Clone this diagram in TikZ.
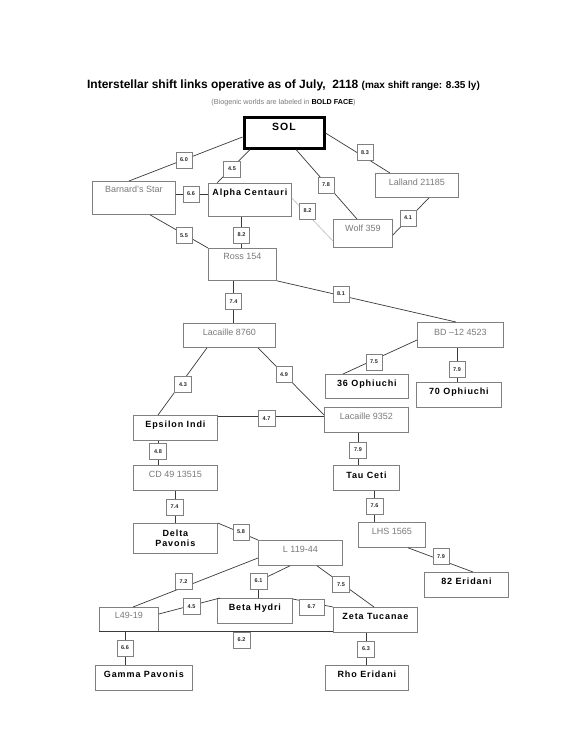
\documentclass[tikz,border=0pt]{standalone}
\usepackage{fontspec}
\setmainfont{Liberation Sans}
\newfontfamily\spcfont[LetterSpace=10]{Liberation Sans}
\usetikzlibrary{calc}
\definecolor{boxc}{HTML}{808080}
\definecolor{linec}{HTML}{3A3A3A}
\definecolor{gtext}{HTML}{7A7A7A}
\definecolor{lightl}{HTML}{BBBBBB}
\begin{document}
\begin{tikzpicture}[x=1pt,y=-1pt,
  gbox/.style={draw=boxc, line width=0.8pt, inner sep=0pt, anchor=north west,
    text height=12pt, text depth=13pt, minimum height=25pt, text=gtext,
    font=\fontsize{9}{11}\selectfont},
  bbox/.style={gbox, text=black, font=\spcfont\bfseries\fontsize{9}{10.7}\selectfont},
  lbl/.style={draw=boxc, line width=0.7pt, fill=white, inner sep=0pt,
    minimum width=16pt, minimum height=16pt,
    font=\bfseries\fontsize{5.5}{6}\selectfont, text=black!85},
  link/.style={draw=linec, line width=0.7pt},
  faint/.style={draw=lightl, line width=0.6pt}]
\fill[white] (0,0) rectangle (566,732);
\useasboundingbox (0,0) rectangle (566,732);

% title
\node[anchor=base, font=\bfseries\fontsize{12}{14}\selectfont] (title) at (283.5,88)
  {Interstellar shift links operative as of July,~~2118 {\fontsize{10}{12}\selectfont(max shift range: 8.35 ly)}};
\node[anchor=base, font=\fontsize{7.2}{8}\selectfont, text=gtext] (subtitle) at (283.5,104)
  {(Biogenic worlds are labeled in \textcolor{black}{\textbf{BOLD FACE}})};

% stars
\node[bbox, draw=black, line width=3pt, minimum width=80pt, minimum height=31pt,
  text height=13.5pt, text depth=17.5pt, font=\spcfont\bfseries\fontsize{10.5}{12}\selectfont]
  (sol) at (242.5,115.5) {SOL};
\node[gbox, minimum width=83pt, minimum height=33pt, text height=11pt, text depth=22pt] (barnard) at (92,181) {Barnard's Star};
\node[bbox, minimum width=83pt, minimum height=33pt, text depth=21pt] (alpha) at (208,183) {Alpha Centauri};
\node[gbox, minimum width=83pt, minimum height=24pt, text depth=12pt] (lalland) at (375,173) {Lalland 21185};
\node[gbox, minimum width=59pt, minimum height=28pt, text depth=16pt] (wolf) at (333,219) {Wolf 359};
\node[gbox, minimum width=68pt, minimum height=32pt, text height=11pt, text depth=21pt] (ross) at (208,248) {Ross 154};
\node[gbox, minimum width=92pt, minimum height=24pt, text depth=12pt] (lac8760) at (183,323) {Lacaille 8760};
\node[gbox, minimum width=86pt, text height=13pt, text depth=12pt] (bd) at (417,322) {BD --12 4523};
\node[bbox, minimum width=83pt, minimum height=24pt, text depth=12pt] (oph36) at (325,374) {36 Ophiuchi};
\node[bbox, minimum width=85pt] (oph70) at (416,382) {70 Ophiuchi};
\node[bbox, minimum width=84pt] (epsilon) at (133,415) {Epsilon Indi};
\node[gbox, minimum width=84pt] (lac9352) at (324,407) {Lacaille 9352};
\node[bbox, minimum width=66pt, text height=13pt, text depth=12pt] (tauceti) at (333,465) {Tau Ceti};
\node[gbox, minimum width=84pt] (cd) at (133,465) {CD 49 13515};
\node[bbox, minimum width=84pt, minimum height=30pt, text height={}, text depth={}, align=center] (delta) at (133,523) {Delta\\Pavonis};
\node[gbox, minimum width=84pt] (l119) at (258,540) {L 119-44};
\node[gbox, minimum width=67pt] (lhs) at (358,522) {LHS 1565};
\node[bbox, minimum width=84pt] (eri82) at (424,572) {82 Eridani};
\node[gbox, minimum width=59pt, minimum height=24pt, text height=11pt, text depth=13pt] (l49) at (99,607) {L49-19};
\node[bbox, minimum width=75pt] (beta) at (217,598) {Beta Hydri};
\node[bbox, minimum width=84pt] (zeta) at (333,607) {Zeta Tucanae};
\node[bbox, minimum width=83pt] (rho) at (325,665) {Rho Eridani};
\node[bbox, minimum width=97pt] (gamma) at (95,665) {Gamma Pavonis};

% label box position used as a bend point
\coordinate (c61) at (258.5,581);

% links
\draw[link] ($(sol.north west)+(0,21.5)$) -- ($(barnard.north west)+(37,0)$);
\draw[link] ($(sol.south west)+(7.5,0)$) -- ($(alpha.north west)+(9,0)$);
\draw[link] ($(sol.south west)+(53.5,0)$) -- ($(wolf.north west)+(24,0)$);
\draw[link] ($(sol.north east)+(0,17.5)$) -- ($(lalland.north west)+(15,0)$);
\draw[link] ($(lalland.south west)+(54,0)$) -- ($(wolf.north east)+(0,16)$);
\draw[faint] ($(alpha.north east)+(0,15)$) -- ($(wolf.north west)+(0,22)$);
\draw[link] ($(barnard.north east)+(0,13)$) -- ($(alpha.north west)+(0,11)$);
\draw[link] ($(alpha.south west)+(33,0)$) -- ($(ross.north west)+(33,0)$);
\draw[link] ($(barnard.south west)+(58,0)$) -- (ross.north west);
\draw[link] ($(ross.south west)+(25,0)$) -- ($(lac8760.north west)+(50,0)$);
\draw[link] (ross.south east) -- ($(bd.north west)+(39,0)$);
\draw[link] ($(bd.north west)+(0,18)$) -- ($(oph36.north west)+(18,0)$);
\draw[link] ($(bd.south west)+(40,0)$) -- ($(oph70.north west)+(41,0)$);
\draw[link] ($(lac8760.south west)+(24,0)$) -- ($(epsilon.north west)+(25,0)$);
\draw[link] ($(lac8760.south west)+(75,0)$) -- ($(lac9352.north west)+(0,8)$);
\draw[link] ($(epsilon.north east)+(0,1)$) -- ($(lac9352.north west)+(0,9)$);
\draw[link] ($(lac9352.south west)+(34,0)$) -- ($(tauceti.north west)+(25,0)$);
\draw[link] ($(epsilon.south west)+(25,0)$) -- ($(cd.north west)+(25,0)$);
\draw[link] ($(cd.south west)+(42,0)$) -- ($(delta.north west)+(42,0)$);
\draw[link] (delta.north east) -- (l119.north west);
\draw[link] ($(tauceti.south west)+(41,0)$) -- ($(lhs.north west)+(16,0)$);
\draw[link] ($(lhs.south west)+(50,0)$) -- ($(eri82.north west)+(49,0)$);
\draw[link] ($(l119.north west)+(0,18)$) -- ($(l49.north west)+(34,0)$);
\draw[link] ($(l119.south west)+(32,0)$) -- (c61) -- ($(beta.north west)+(41.5,0)$);
\draw[link] ($(l119.south west)+(59,0)$) -- ($(zeta.north west)+(41,0)$);
\draw[link] ($(l49.north east)+(0,7)$) -- ($(beta.north west)+(3,0)$);
\draw[link] ($(beta.north east)+(0,1)$) -- (zeta.north west);
\draw[link] (l49.south west) -- (l49.south west -| zeta.south west);
\draw[link] ($(l49.south west)+(26,0)$) -- ($(gamma.north west)+(30,0)$);
\draw[link] ($(zeta.south west)+(33,0)$) -- ($(rho.north west)+(41,0)$);

% distance labels
\node[lbl] (lb60) at (184,160) {6.0};
\node[lbl, minimum width=17pt] (lb45a) at (232,169) {4.5};
\node[lbl] (lb78) at (326,185) {7.8};
\node[lbl] (lb83) at (365,152.5) {8.3};
\node[lbl] (lb41) at (408,218) {4.1};
\node[lbl] (lb82a) at (307.5,211) {8.2};
\node[lbl] (lb66a) at (191,194) {6.6};
\node[lbl] (lb82b) at (241.5,235) {8.2};
\node[lbl] (lb55) at (184,235.5) {5.5};
\node[lbl] (lb74a) at (233.5,301.5) {7.4};
\node[lbl] (lb81) at (341,294) {8.1};
\node[lbl] (lb75a) at (374,362) {7.5};
\node[lbl] (lb79a) at (457,369.5) {7.9};
\node[lbl, minimum width=17pt] (lb43) at (183,384.5) {4.3};
\node[lbl] (lb49) at (284,374.5) {4.9};
\node[lbl, minimum width=17pt] (lb47) at (266.5,418.5) {4.7};
\node[lbl, minimum width=17pt] (lb79b) at (358,450) {7.9};
\node[lbl, minimum width=17pt] (lb48) at (158,451.5) {4.8};
\node[lbl, minimum width=17pt] (lb74b) at (174.5,507) {7.4};
\node[lbl] (lb58) at (241,532) {5.8};
\node[lbl, minimum width=17pt] (lb76) at (374.5,506) {7.6};
\node[lbl] (lb79c) at (441,556.5) {7.9};
\node[lbl, minimum width=17pt] (lb72) at (183.5,581.5) {7.2};
\node[lbl, minimum width=17pt] (lb61) at (c61) {6.1};
\node[lbl, minimum width=17pt] (lb75b) at (341,584.5) {7.5};
\node[lbl, minimum width=17pt] (lb45b) at (191.5,606.5) {4.5};
\node[lbl, minimum width=25pt] (lb67) at (311.5,607) {6.7};
\node[lbl, minimum width=17pt, anchor=north] (lb62) at (241.5,631.5) {6.2};
\node[lbl] (lb66b) at (125,648) {6.6};
\node[lbl, minimum width=17pt] (lb63) at (366,649) {6.3};
\end{tikzpicture}
\end{document}
